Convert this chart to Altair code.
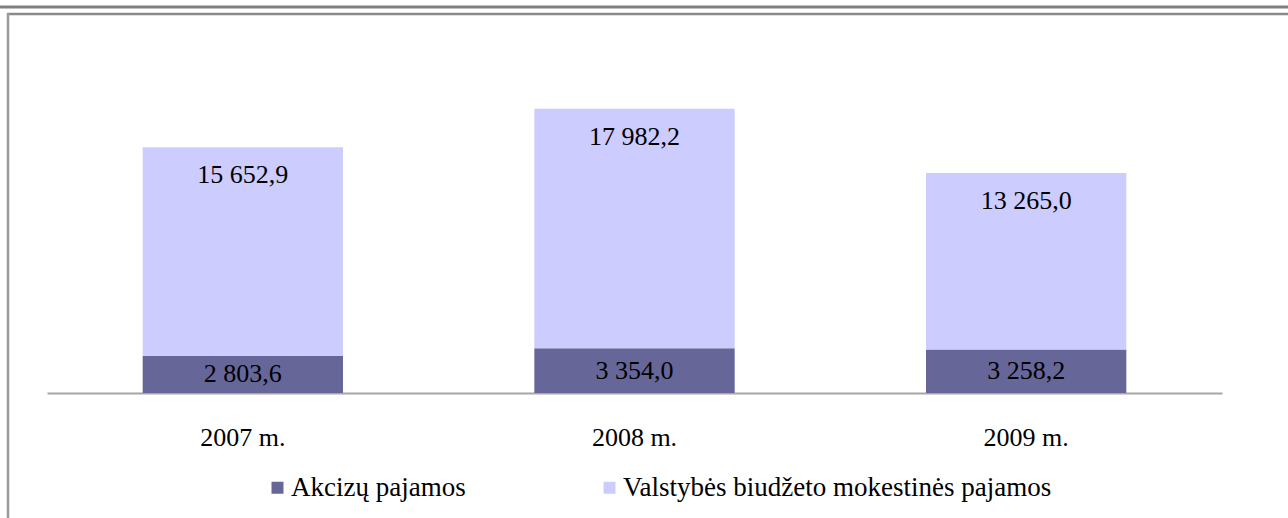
import altair as alt
import pandas as pd

years = ["2007 m.", "2008 m.", "2009 m."]
excise = [2803.6, 3354.0, 3258.2]
tax = [15652.9, 17982.2, 13265.0]
series = ["Akcizų pajamos", "Valstybės biudžeto mokestinės pajamos"]
colors = ["#666699", "#CCCCFF"]

FONT = "Liberation Serif"


def fmt(v):
    return f"{v:,.1f}".replace(",", " ").replace(".", ",")


rows = []
for y, e, t in zip(years, excise, tax):
    rows.append({"year": y, "series": series[0], "value": e, "ord": 0})
    rows.append({"year": y, "series": series[1], "value": t, "ord": 1})
df = pd.DataFrame(rows)

lab = pd.DataFrame({
    "year": years * 2,
    "pos": [e / 2 for e in excise] + [e + t for e, t in zip(excise, tax)],
    "txt": [fmt(e) for e in excise] + [fmt(t) for t in tax],
    "kind": ["dark"] * 3 + ["light"] * 3,
})

W, H = 1175, 333
xscale = alt.Scale(paddingInner=0.4885, paddingOuter=0.24425)
yscale = alt.Scale(domain=[0, 25000], nice=False)

bars = alt.Chart(df).mark_bar().encode(
    x=alt.X("year:N", scale=xscale, sort=years, title=None,
            axis=alt.Axis(labelAngle=0, ticks=False, labelFont=FONT, labelFontSize=26,
                          labelColor="black", labelPadding=44, labelBaseline="middle",
                          domainColor="#a6a6a6", domainWidth=2)),
    y=alt.Y("value:Q", stack="zero", scale=yscale, axis=None),
    color=alt.Color("series:N", scale=alt.Scale(domain=series, range=colors),
                    legend=alt.Legend(title=None, orient="none", direction="horizontal",
                                      legendX=217, legendY=414, symbolType="square",
                                      symbolSize=144, symbolStrokeWidth=0,
                                      labelFont=FONT, labelFontSize=27, labelColor="black",
                                      labelOffset=0, columnPadding=130, labelLimit=700)),
    order=alt.Order("ord:Q"),
)

dark_txt = alt.Chart(lab).transform_filter("datum.kind == 'dark'").mark_text(
    font=FONT, fontSize=26, color="black", baseline="middle").encode(
    x=alt.X("year:N", scale=xscale, sort=years),
    y=alt.Y("pos:Q", scale=yscale),
    text="txt:N",
)
light_txt = alt.Chart(lab).transform_filter("datum.kind == 'light'").mark_text(
    font=FONT, fontSize=26, color="black", baseline="middle", dy=28).encode(
    x=alt.X("year:N", scale=xscale, sort=years),
    y=alt.Y("pos:Q", scale=yscale),
    text="txt:N",
)

# decorative frame lines
sep = alt.Chart(pd.DataFrame({"a": [0]})).mark_rule(color="#808080", strokeWidth=3, clip=False).encode(
    x=alt.value(-60), x2=alt.value(W + 80), y=alt.value(-53))
frame_top = alt.Chart(pd.DataFrame({"a": [0]})).mark_rule(color="#8a8a8a", strokeWidth=2.5, clip=False).encode(
    x=alt.value(-40), x2=alt.value(W + 80), y=alt.value(-46))
frame_left = alt.Chart(pd.DataFrame({"a": [0]})).mark_rule(color="#9a9a9a", strokeWidth=2.5, clip=False).encode(
    x=alt.value(-39), y=alt.value(-47), y2=alt.value(470))

chart = alt.layer(bars, dark_txt, light_txt, sep, frame_top, frame_left).properties(
    width=W, height=H,
    background="white",
    autosize=alt.AutoSizeParams(type="none"),
    padding={"left": 47, "top": 60, "right": 66, "bottom": 125},
).configure_view(strokeWidth=0, stroke=None).configure_legend(
    labelFont=FONT, labelFontSize=27, labelColor="black"
)

chart.save("out.html", embed_options={"renderer": "svg", "actions": False})
